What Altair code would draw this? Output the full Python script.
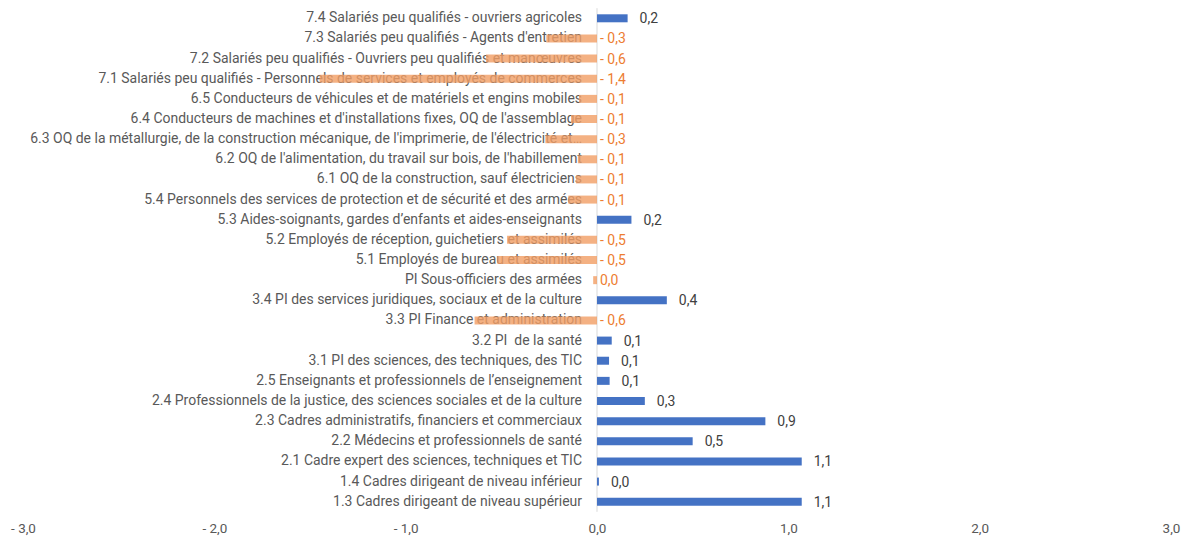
import altair as alt
import pandas as pd

categories = [
    "7.4 Salariés peu qualifiés - ouvriers agricoles",
    "7.3 Salariés peu qualifiés - Agents d'entretien",
    "7.2 Salariés peu qualifiés - Ouvriers peu qualifiés et manœuvres",
    "7.1 Salariés peu qualifiés - Personnels de services et employés de commerces",
    "6.5 Conducteurs de véhicules et de matériels et engins mobiles",
    "6.4 Conducteurs de machines et d'installations fixes, OQ de l'assemblage",
    "6.3 OQ de la métallurgie, de la construction mécanique, de l'imprimerie, de l'électricité et…",
    "6.2 OQ de l'alimentation, du travail sur bois, de l'habillement",
    "6.1 OQ de la construction, sauf électriciens",
    "5.4 Personnels des services de protection et de sécurité et des armées",
    "5.3 Aides-soignants, gardes d’enfants et aides-enseignants",
    "5.2 Employés de réception, guichetiers et assimilés",
    "5.1 Employés de bureau et assimilés",
    "PI Sous-officiers des armées",
    "3.4 PI des services juridiques, sociaux et de la culture",
    "3.3 PI Finance et administration",
    "3.2 PI\u00a0 de la santé",
    "3.1 PI des sciences, des techniques, des TIC",
    "2.5 Enseignants et professionnels de l’enseignement",
    "2.4 Professionnels de la justice, des sciences sociales et de la culture",
    "2.3 Cadres administratifs, financiers et commerciaux",
    "2.2 Médecins et professionnels de santé",
    "2.1 Cadre expert des sciences, techniques et TIC",
    "1.4 Cadres dirigeant de niveau inférieur",
    "1.3 Cadres dirigeant de niveau supérieur",
]

values = [0.16, -0.265, -0.58, -1.45, -0.094, -0.136, -0.27, -0.10, -0.11, -0.15,
          0.18, -0.47, -0.52, -0.02, 0.365, -0.64, 0.077, 0.063, 0.066, 0.25,
          0.88, 0.50, 1.07, 0.01, 1.07]

value_labels = ["0,2", "- 0,3", "- 0,6", "- 1,4", "- 0,1", "- 0,1", "- 0,3", "- 0,1", "- 0,1", "- 0,1",
                "0,2", "- 0,5", "- 0,5", "0,0", "0,4", "- 0,6", "0,1", "0,1", "0,1", "0,3",
                "0,9", "0,5", "1,1", "0,0", "1,1"]

df = pd.DataFrame({"cat": categories, "value": values, "vlabel": value_labels})

FONT = "Roboto"
y_enc = alt.Y("cat:N", sort=categories, axis=None,
              scale=alt.Scale(paddingInner=0, paddingOuter=0))
x_scale = alt.Scale(domain=[-3, 3], nice=False, zero=False)

base = alt.Chart(df).transform_calculate(zero="0")

zero_rule = alt.Chart(pd.DataFrame({"z": [0]})).mark_rule(color="#D9D9D9", strokeWidth=1).encode(
    x=alt.X("z:Q", scale=x_scale,
            axis=alt.Axis(values=[-3, -2, -1, 0, 1, 2, 3], title=None, domain=False, ticks=False,
                          grid=False, labelFont=FONT, labelFontSize=13.5, labelColor="#595959",
                          labelPadding=10, labelFlush=False,
                          labelExpr="datum.value < 0 ? '- ' + replace(format(-datum.value, '.1f'), '.', ',') : replace(format(datum.value, '.1f'), '.', ',')"))
)

cat_text = base.mark_text(align="right", baseline="middle", dx=-15, font=FONT, fontSize=14,
                          color="#595959").encode(
    x=alt.X("zero:Q", scale=x_scale), y=y_enc, text="cat:N"
)

bars_pos = base.mark_bar(size=8, color="#4472C4").encode(
    x=alt.X("value:Q", scale=x_scale), x2=alt.X2("zero:Q"), y=y_enc
).transform_filter("datum.value >= 0")

bars_neg = base.mark_bar(size=8, color="#F19D64", opacity=0.8).encode(
    x=alt.X("value:Q", scale=x_scale), x2=alt.X2("zero:Q"), y=y_enc
).transform_filter("datum.value < 0")

lab_pos = base.mark_text(align="left", baseline="middle", dx=12, dy=1, font=FONT, fontSize=14,
                         color="#404040").encode(
    x=alt.X("value:Q", scale=x_scale), y=y_enc, text="vlabel:N"
).transform_filter("datum.value >= 0")

lab_neg = base.mark_text(align="left", baseline="middle", dx=3, dy=1, font=FONT, fontSize=14,
                         color="#ED7D31").encode(
    x=alt.X("zero:Q", scale=x_scale), y=y_enc, text="vlabel:N"
).transform_filter("datum.value < 0")

chart = alt.layer(zero_rule, cat_text, bars_pos, bars_neg, lab_pos, lab_neg).properties(
    width=1149, height=504,
    background="white",
    autosize=alt.AutoSizeParams(type="none"),
    padding={"left": 15, "top": 0, "right": 10, "bottom": 29},
).configure_view(strokeWidth=0, stroke="transparent")

chart.save("out.html", embed_options={"renderer": "svg", "actions": False})
